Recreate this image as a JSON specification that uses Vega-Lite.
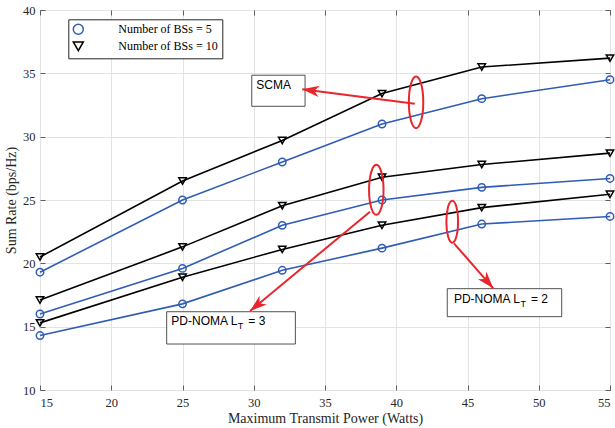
{
  "$schema": "https://vega.github.io/schema/vega-lite/v6.json",
  "width": 570,
  "height": 380,
  "autosize": {"type": "none"},
  "padding": {"left": 40, "top": 10, "right": 5, "bottom": 38},
  "background": "white",
  "config": {
    "view": {"stroke": "#5f5f5f", "strokeWidth": 1},
    "axis": {
      "labelFont": "Liberation Serif", "titleFont": "Liberation Serif",
      "labelFontSize": 12.5, "titleFontSize": 14, "titleFontWeight": "normal",
      "labelColor": "#262626", "titleColor": "#262626",
      "domain": false, "tickColor": "#5f5f5f", "gridColor": "#e3e3e3", "gridWidth": 1
    }
  },
  "datasets": {
    "rates": [
      {"power": 15, "rate": 20.5, "bs": "Number of BSs = 10", "scheme": "SCMA"},
      {"power": 25, "rate": 26.5, "bs": "Number of BSs = 10", "scheme": "SCMA"},
      {"power": 32, "rate": 29.7, "bs": "Number of BSs = 10", "scheme": "SCMA"},
      {"power": 39, "rate": 33.4, "bs": "Number of BSs = 10", "scheme": "SCMA"},
      {"power": 46, "rate": 35.5, "bs": "Number of BSs = 10", "scheme": "SCMA"},
      {"power": 55, "rate": 36.2, "bs": "Number of BSs = 10", "scheme": "SCMA"},
      {"power": 15, "rate": 19.3, "bs": "Number of BSs = 5", "scheme": "SCMA"},
      {"power": 25, "rate": 25.0, "bs": "Number of BSs = 5", "scheme": "SCMA"},
      {"power": 32, "rate": 28.0, "bs": "Number of BSs = 5", "scheme": "SCMA"},
      {"power": 39, "rate": 31.0, "bs": "Number of BSs = 5", "scheme": "SCMA"},
      {"power": 46, "rate": 33.0, "bs": "Number of BSs = 5", "scheme": "SCMA"},
      {"power": 55, "rate": 34.5, "bs": "Number of BSs = 5", "scheme": "SCMA"},
      {"power": 15, "rate": 17.1, "bs": "Number of BSs = 10", "scheme": "LT3"},
      {"power": 25, "rate": 21.3, "bs": "Number of BSs = 10", "scheme": "LT3"},
      {"power": 32, "rate": 24.55, "bs": "Number of BSs = 10", "scheme": "LT3"},
      {"power": 39, "rate": 26.8, "bs": "Number of BSs = 10", "scheme": "LT3"},
      {"power": 46, "rate": 27.8, "bs": "Number of BSs = 10", "scheme": "LT3"},
      {"power": 55, "rate": 28.7, "bs": "Number of BSs = 10", "scheme": "LT3"},
      {"power": 15, "rate": 16.0, "bs": "Number of BSs = 5", "scheme": "LT3"},
      {"power": 25, "rate": 19.6, "bs": "Number of BSs = 5", "scheme": "LT3"},
      {"power": 32, "rate": 23.0, "bs": "Number of BSs = 5", "scheme": "LT3"},
      {"power": 39, "rate": 25.0, "bs": "Number of BSs = 5", "scheme": "LT3"},
      {"power": 46, "rate": 26.0, "bs": "Number of BSs = 5", "scheme": "LT3"},
      {"power": 55, "rate": 26.7, "bs": "Number of BSs = 5", "scheme": "LT3"},
      {"power": 15, "rate": 15.3, "bs": "Number of BSs = 10", "scheme": "LT2"},
      {"power": 25, "rate": 18.9, "bs": "Number of BSs = 10", "scheme": "LT2"},
      {"power": 32, "rate": 21.1, "bs": "Number of BSs = 10", "scheme": "LT2"},
      {"power": 39, "rate": 23.0, "bs": "Number of BSs = 10", "scheme": "LT2"},
      {"power": 46, "rate": 24.4, "bs": "Number of BSs = 10", "scheme": "LT2"},
      {"power": 55, "rate": 25.45, "bs": "Number of BSs = 10", "scheme": "LT2"},
      {"power": 15, "rate": 14.3, "bs": "Number of BSs = 5", "scheme": "LT2"},
      {"power": 25, "rate": 16.8, "bs": "Number of BSs = 5", "scheme": "LT2"},
      {"power": 32, "rate": 19.45, "bs": "Number of BSs = 5", "scheme": "LT2"},
      {"power": 39, "rate": 21.2, "bs": "Number of BSs = 5", "scheme": "LT2"},
      {"power": 46, "rate": 23.1, "bs": "Number of BSs = 5", "scheme": "LT2"},
      {"power": 55, "rate": 23.7, "bs": "Number of BSs = 5", "scheme": "LT2"}
    ],
    "ann": [
      {"name": "SCMA", "main": "SCMA", "sub": "", "tail": "", "lx": 32.61, "ly": 34.04,
       "bx1": 29.86, "bx2": 33.6, "by1": 34.85, "by2": 32.4,
       "ax": 41.3, "ay": 32.6, "tx": 33.4, "ty": 33.74, "ex": 41.39, "ey": 32.71},
      {"name": "LT3", "main": "PD-NOMA L", "sub": "T", "tail": "= 3", "lx": 28.85, "ly": 15.42,
       "bx1": 23.89, "bx2": 32.92, "by1": 16.18, "by2": 13.63,
       "ax": 38.16, "ay": 24.08, "tx": 29.74, "ty": 16.24, "ex": 38.6, "ey": 25.8},
      {"name": "LT2", "main": "PD-NOMA L", "sub": "T", "tail": "= 2", "lx": 48.68, "ly": 17.2,
       "bx1": 43.58, "bx2": 51.61, "by1": 18.0, "by2": 15.79,
       "ax": 44.05, "ay": 21.58, "tx": 46.81, "ty": 18.03, "ex": 43.93, "ey": 23.29}
    ]
  },
  "layer": [
    {
      "data": {"name": "rates"},
      "mark": {"type": "line", "strokeWidth": 1.6},
      "encoding": {
        "x": {"field": "power", "type": "quantitative",
              "scale": {"domain": [15, 55], "nice": false, "zero": false},
              "axis": {"values": [15, 20, 25, 30, 35, 40, 45, 50, 55], "title": "Maximum Transmit Power (Watts)",
                       "grid": true, "tickSize": -5, "labelPadding": 11, "titlePadding": 3}},
        "y": {"field": "rate", "type": "quantitative",
              "scale": {"domain": [10, 40], "nice": false, "zero": false},
              "axis": {"values": [10, 15, 20, 25, 30, 35, 40], "title": "Sum Rate (bps/Hz)",
                       "grid": true, "tickSize": -5, "labelPadding": 10, "titlePadding": 4}},
        "color": {"field": "bs", "type": "nominal",
                  "scale": {"domain": ["Number of BSs = 5", "Number of BSs = 10"], "range": ["#2f5cb5", "#000000"]}},
        "detail": {"field": "scheme"}
      }
    },
    {
      "data": {"name": "rates"},
      "mark": {"type": "point", "filled": false, "size": 55, "strokeWidth": 1.5, "opacity": 1},
      "encoding": {
        "x": {"field": "power", "type": "quantitative", "axis": null},
        "y": {"field": "rate", "type": "quantitative", "axis": null},
        "color": {"field": "bs", "type": "nominal",
                  "scale": {"domain": ["Number of BSs = 5", "Number of BSs = 10"], "range": ["#2f5cb5", "#000000"]},
                  "legend": {"title": null, "orient": "none", "legendX": 28.3, "legendY": 9.3,
                             "strokeColor": "#262626", "fillColor": "white", "padding": 4, "rowPadding": 1,
                             "labelFont": "Liberation Serif", "labelFontSize": 12, "labelColor": "#000000",
                             "symbolSize": 100, "labelOffset": 34, "symbolStrokeWidth": 1.5}},
        "shape": {"field": "bs", "type": "nominal",
                  "scale": {"domain": ["Number of BSs = 5", "Number of BSs = 10"], "range": ["circle", "triangle-down"]}}
      }
    },
    {
      "data": {"name": "rates"},
      "mark": {"type": "point", "opacity": 0},
      "encoding": {
        "x": {"field": "power", "type": "quantitative",
              "axis": {"orient": "top", "labels": false, "grid": false, "title": null, "tickSize": -5,
                       "values": [15, 20, 25, 30, 35, 40, 45, 50, 55]}},
        "y": {"field": "rate", "type": "quantitative",
              "axis": {"orient": "right", "labels": false, "grid": false, "title": null, "tickSize": -5,
                       "values": [10, 15, 20, 25, 30, 35, 40]}}
      }
    },
    {
      "data": {"name": "ann"},
      "mark": {"type": "rect", "fill": "white", "stroke": "#262626", "strokeWidth": 0.8},
      "encoding": {
        "x": {"field": "bx1", "type": "quantitative", "axis": null},
        "x2": {"field": "bx2"},
        "y": {"field": "by1", "type": "quantitative", "axis": null},
        "y2": {"field": "by2"}
      }
    },
    {
      "data": {"name": "ann"},
      "mark": {"type": "text", "align": "right", "baseline": "middle", "font": "Liberation Sans", "fontSize": 12, "color": "#000000"},
      "encoding": {
        "x": {"field": "lx", "type": "quantitative", "axis": null},
        "y": {"field": "ly", "type": "quantitative", "axis": null},
        "text": {"field": "main"}
      }
    },
    {
      "data": {"name": "ann"},
      "mark": {"type": "text", "align": "left", "baseline": "middle", "font": "Liberation Sans", "fontSize": 9, "dx": 0.5, "dy": 5, "color": "#000000"},
      "encoding": {
        "x": {"field": "lx", "type": "quantitative", "axis": null},
        "y": {"field": "ly", "type": "quantitative", "axis": null},
        "text": {"field": "sub"}
      }
    },
    {
      "data": {"name": "ann"},
      "mark": {"type": "text", "align": "left", "baseline": "middle", "font": "Liberation Sans", "fontSize": 12, "dx": 11, "color": "#000000"},
      "encoding": {
        "x": {"field": "lx", "type": "quantitative", "axis": null},
        "y": {"field": "ly", "type": "quantitative", "axis": null},
        "text": {"field": "tail"}
      }
    },
    {
      "data": {"name": "ann"},
      "mark": {"type": "rule", "color": "#e8262c", "strokeWidth": 2},
      "encoding": {
        "x": {"field": "ax", "type": "quantitative", "axis": null},
        "y": {"field": "ay", "type": "quantitative", "axis": null},
        "x2": {"field": "tx"},
        "y2": {"field": "ty"}
      }
    },
    {
      "data": {"name": "ann"},
      "transform": [{"filter": "datum.name === 'SCMA'"}],
      "mark": {"type": "point", "shape": "M0,0L-1,-0.33L-0.72,0L-1,0.33Z", "size": 1156, "angle": 187, "filled": true, "color": "#e8262c", "opacity": 1, "strokeWidth": 0},
      "encoding": {
        "x": {"field": "tx", "type": "quantitative", "axis": null},
        "y": {"field": "ty", "type": "quantitative", "axis": null}
      }
    },
    {
      "data": {"name": "ann"},
      "transform": [{"filter": "datum.name === 'LT3'"}],
      "mark": {"type": "point", "shape": "M0,0L-1,-0.33L-0.72,0L-1,0.33Z", "size": 1156, "angle": 140.4, "filled": true, "color": "#e8262c", "opacity": 1, "strokeWidth": 0},
      "encoding": {
        "x": {"field": "tx", "type": "quantitative", "axis": null},
        "y": {"field": "ty", "type": "quantitative", "axis": null}
      }
    },
    {
      "data": {"name": "ann"},
      "transform": [{"filter": "datum.name === 'LT2'"}],
      "mark": {"type": "point", "shape": "M0,0L-1,-0.33L-0.72,0L-1,0.33Z", "size": 1156, "angle": 48.9, "filled": true, "color": "#e8262c", "opacity": 1, "strokeWidth": 0},
      "encoding": {
        "x": {"field": "tx", "type": "quantitative", "axis": null},
        "y": {"field": "ty", "type": "quantitative", "axis": null}
      }
    },
    {
      "data": {"name": "ann"},
      "transform": [{"filter": "datum.name === 'SCMA'"}],
      "mark": {"type": "point", "shape": "M0,-1A0.28,1 0 1,1 0,1A0.28,1 0 1,1 0,-1Z", "size": 2663, "filled": false, "color": "#e8262c", "opacity": 1, "strokeWidth": 2},
      "encoding": {
        "x": {"field": "ex", "type": "quantitative", "axis": null},
        "y": {"field": "ey", "type": "quantitative", "axis": null}
      }
    },
    {
      "data": {"name": "ann"},
      "transform": [{"filter": "datum.name === 'LT3'"}],
      "mark": {"type": "point", "shape": "M0,-1A0.29,1 0 1,1 0,1A0.29,1 0 1,1 0,-1Z", "size": 2500, "filled": false, "color": "#e8262c", "opacity": 1, "strokeWidth": 2},
      "encoding": {
        "x": {"field": "ex", "type": "quantitative", "axis": null},
        "y": {"field": "ey", "type": "quantitative", "axis": null}
      }
    },
    {
      "data": {"name": "ann"},
      "transform": [{"filter": "datum.name === 'LT2'"}],
      "mark": {"type": "point", "shape": "M0,-1A0.28,1 0 1,1 0,1A0.28,1 0 1,1 0,-1Z", "size": 1764, "filled": false, "color": "#e8262c", "opacity": 1, "strokeWidth": 2},
      "encoding": {
        "x": {"field": "ex", "type": "quantitative", "axis": null},
        "y": {"field": "ey", "type": "quantitative", "axis": null}
      }
    }
  ],
  "resolve": {"axis": {"x": "independent", "y": "independent"}}
}
